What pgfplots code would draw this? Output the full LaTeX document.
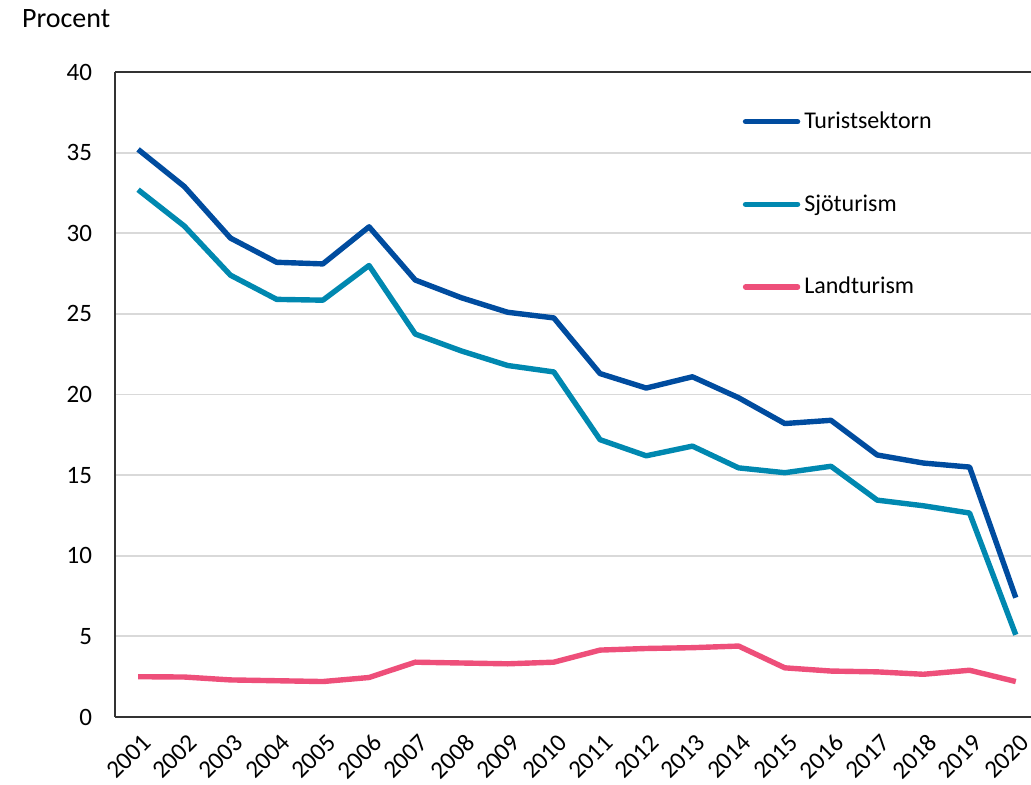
\documentclass[border=0pt]{standalone}
\usepackage{pgfplots}
\pgfplotsset{compat=1.18}
\usepackage{fontspec}
\setmainfont{Carlito}
\definecolor{turist}{HTML}{004C9F}
\definecolor{sjo}{HTML}{0088B0}
\definecolor{land}{HTML}{EE4F7A}
\begin{document}
\begin{tikzpicture}
\useasboundingbox (-57.5pt,-33.5pt) rectangle (458pt,358.5pt);
\begin{axis}[
  scale only axis,
  width=458pt, height=322.5pt,
  xmin=2000.5, xmax=2020.33,
  ymin=0, ymax=40,
  axis x line*=bottom, axis y line*=left,
  axis line style={-, black!80, line width=0.8pt},
  xtick={2001,...,2020},
  ytick={0,5,...,40},
  major tick length=0pt,
  ymajorgrids,
  grid style={gray!30, line width=0.9pt},
  extra y ticks={40},
  extra y tick labels={},
  extra y tick style={grid style={black!80, line width=0.8pt}},
  /pgf/number format/assume math mode=true,
  /pgf/number format/1000 sep={},
  ticklabel style={font=\fontsize{12.5}{14}\selectfont},
  yticklabel style={xshift=-8pt},
  xticklabel style={rotate=45, anchor=north east, yshift=-3pt, xshift=-1pt},
  legend style={draw=none, fill=none, at={(0.685,0.945)}, anchor=north west,
    font=\fontsize{12}{14}\selectfont, row sep=27.5pt, inner sep=0pt},
  legend cell align=left,
  legend image code/.code={\draw[#1, line cap=round] (0pt,0pt) -- (26pt,0pt);},
  every axis plot/.append style={line width=2.7pt, line join=round, mark=none},
]
\addplot[turist] coordinates {
(2001,35.2)(2002,32.9)(2003,29.7)(2004,28.2)(2005,28.1)(2006,30.4)(2007,27.1)(2008,26.0)(2009,25.1)(2010,24.75)
(2011,21.3)(2012,20.4)(2013,21.1)(2014,19.8)(2015,18.2)(2016,18.4)(2017,16.25)(2018,15.75)(2019,15.5)(2020,7.4)};
\addlegendentry{Turistsektorn}
\addplot[sjo] coordinates {
(2001,32.7)(2002,30.45)(2003,27.4)(2004,25.9)(2005,25.85)(2006,28.0)(2007,23.75)(2008,22.7)(2009,21.8)(2010,21.4)
(2011,17.2)(2012,16.2)(2013,16.8)(2014,15.45)(2015,15.15)(2016,15.55)(2017,13.45)(2018,13.1)(2019,12.65)(2020,5.1)};
\addlegendentry{Sjöturism}
\addplot[land] coordinates {
(2001,2.5)(2002,2.48)(2003,2.3)(2004,2.25)(2005,2.2)(2006,2.45)(2007,3.4)(2008,3.35)(2009,3.3)(2010,3.4)
(2011,4.15)(2012,4.25)(2013,4.3)(2014,4.4)(2015,3.05)(2016,2.85)(2017,2.8)(2018,2.65)(2019,2.9)(2020,2.2)};
\addlegendentry{Landturism}
\end{axis}
\node[anchor=base west, font=\fontsize{14}{16}\selectfont] at (-50pt,345pt) {Procent};
\end{tikzpicture}
\end{document}
